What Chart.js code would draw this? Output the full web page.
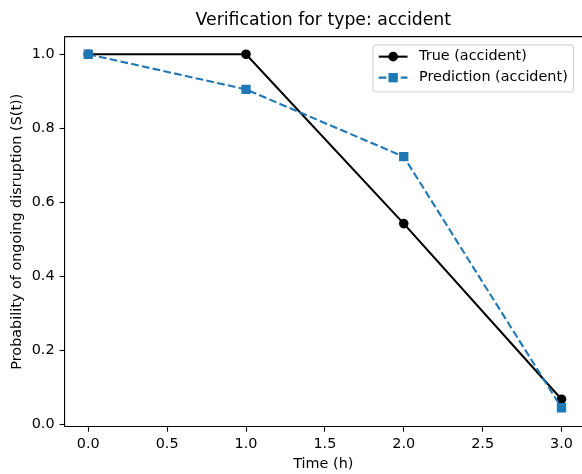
<!DOCTYPE html>
<html><head><meta charset="utf-8">
<script src="https://cdn.jsdelivr.net/npm/chart.js@4/dist/chart.umd.min.js"></script>
<style>html,body{margin:0;padding:0;background:#fff;overflow:hidden}canvas{display:block}</style>
</head><body><canvas id="c" width="582" height="474"></canvas>
<script>
const times = [0, 1, 2, 3];
const trueValues = [1.0, 1.0, 0.542, 0.067];
const predValues = [1.0, 0.905, 0.723, 0.044];
const xTickValues = [0, 0.5, 1, 1.5, 2, 2.5, 3];
const yTickValues = [0, 0.2, 0.4, 0.6, 0.8, 1.0];
const seriesLabels = ['True (accident)', 'Prediction (accident)'];
const titleText = 'Verification for type: accident';
const xTitle = 'Time (h)';
const yTitle = 'Probability of ongoing disruption (S(t))';

const FONT = '"DejaVu Sans", "Liberation Sans", sans-serif';
const BLUE = '#1f77b4';
const FS = 14.4;

const framePlugin = {
  id: 'frameTop',
  afterDraw(chart) {
    const a = chart.chartArea, ctx = chart.ctx;
    ctx.save();
    ctx.strokeStyle = '#000';
    ctx.lineWidth = 1.1;
    ctx.beginPath();
    ctx.moveTo(a.left - 0.55, a.top);
    ctx.lineTo(a.right + 2, a.top);
    ctx.stroke();
    ctx.restore();
  }
};

const legendPlugin = {
  id: 'mplLegend',
  afterDatasetsDraw(chart) {
    const ctx = chart.ctx, a = chart.chartArea;
    ctx.save();
    ctx.font = FS + 'px ' + FONT;
    const ds = chart.data.datasets;
    const textW = Math.max(...ds.map(d => ctx.measureText(d.label).width));
    const pad = 0.4 * FS, handleLen = 2 * FS, handlePad = 0.8 * FS, rowH = 21;
    const w = pad + handleLen + handlePad + textW + pad;
    const h = 47;
    const right = a.right - 8.5;
    const left = right - w;
    const top = a.top + 8.3;
    ctx.beginPath();
    ctx.roundRect(left, top, w, h, 3);
    ctx.fillStyle = 'rgba(255,255,255,0.8)';
    ctx.fill();
    ctx.strokeStyle = '#cccccc';
    ctx.lineWidth = 1;
    ctx.stroke();
    ds.forEach((d, i) => {
      const y = top + 11.7 + i * rowH;
      const x0 = left + pad;
      ctx.save();
      ctx.strokeStyle = d.borderColor;
      ctx.lineWidth = d.borderWidth;
      ctx.setLineDash(d.borderDash || []);
      ctx.beginPath();
      ctx.moveTo(x0, y);
      ctx.lineTo(x0 + handleLen, y);
      ctx.stroke();
      ctx.restore();
      const cx = x0 + handleLen / 2;
      ctx.fillStyle = d.pointBackgroundColor;
      if (d.pointStyle === 'rect') {
        const s = Math.SQRT1_2 * d.pointRadius;
        ctx.fillRect(cx - s, y - s, 2 * s, 2 * s);
      } else {
        ctx.beginPath();
        ctx.arc(cx, y, d.pointRadius, 0, Math.PI * 2);
        ctx.fill();
      }
      ctx.fillStyle = '#000';
      ctx.textBaseline = 'middle';
      ctx.textAlign = 'left';
      ctx.fillText(d.label, x0 + handleLen + handlePad, y);
    });
    ctx.restore();
  }
};

new Chart(document.getElementById('c'), {
  type: 'line',
  data: {
    datasets: [
      {
        label: seriesLabels[0],
        data: times.map((t, i) => ({x: t, y: trueValues[i]})),
        borderColor: '#000',
        backgroundColor: '#000',
        borderWidth: 2.1,
        pointRadius: 4.8,
        pointStyle: 'circle',
        pointBackgroundColor: '#000',
        pointBorderWidth: 0,
        tension: 0,
        order: 1
      },
      {
        label: seriesLabels[1],
        data: times.map((t, i) => ({x: t, y: predValues[i]})),
        borderColor: BLUE,
        backgroundColor: BLUE,
        borderWidth: 2.1,
        borderDash: [7.7, 3.3],
        pointRadius: 6.6,
        pointStyle: 'rect',
        pointBackgroundColor: BLUE,
        pointBorderWidth: 0,
        tension: 0,
        order: 0
      }
    ]
  },
  options: {
    responsive: false,
    animation: false,
    devicePixelRatio: 1,
    layout: {padding: 0, autoPadding: false},
    plugins: {
      legend: {display: false},
      tooltip: {enabled: false},
      title: {
        display: true,
        text: titleText,
        fullSize: false,
        color: '#000',
        font: {family: FONT, size: 17.3, weight: 'normal'},
        padding: {top: 10.5, bottom: 5.4}
      }
    },
    scales: {
      x: {
        type: 'linear',
        min: -0.15,
        max: 3.13,
        afterBuildTicks: s => { s.ticks = xTickValues.map(v => ({value: v})); },
        afterFit: s => { s.height = 47.3; s.paddingLeft = 0; s.paddingRight = 0; },
        grid: {drawOnChartArea: false, drawTicks: true, tickLength: 5, tickWidth: 1.1, tickColor: '#000'},
        border: {display: true, color: '#000', width: 1.1},
        ticks: {
          autoSkip: false, maxRotation: 0, padding: 4, color: '#000',
          font: {family: FONT, size: FS},
          callback: v => Number(v).toFixed(1)
        },
        title: {
          display: true, text: xTitle, color: '#000',
          font: {family: FONT, size: FS},
          padding: {top: 0, bottom: 1.5}
        }
      },
      y: {
        type: 'linear',
        min: -0.0073,
        max: 1.0476,
        afterBuildTicks: s => { s.ticks = yTickValues.map(v => ({value: v})); },
        afterFit: s => { s.width = 64.6; s.paddingTop = 0; s.paddingBottom = 0; },
        grid: {drawOnChartArea: false, drawTicks: true, tickLength: 5, tickWidth: 1.1, tickColor: '#000'},
        border: {display: true, color: '#000', width: 1.1},
        ticks: {
          autoSkip: false, padding: 5, color: '#000',
          font: {family: FONT, size: FS},
          callback: v => Number(v).toFixed(1)
        },
        title: {
          display: true, text: yTitle, color: '#000',
          font: {family: FONT, size: FS},
          padding: {top: 8.5, bottom: 0}
        }
      }
    }
  },
  plugins: [framePlugin, legendPlugin]
});
</script>
</body></html>
